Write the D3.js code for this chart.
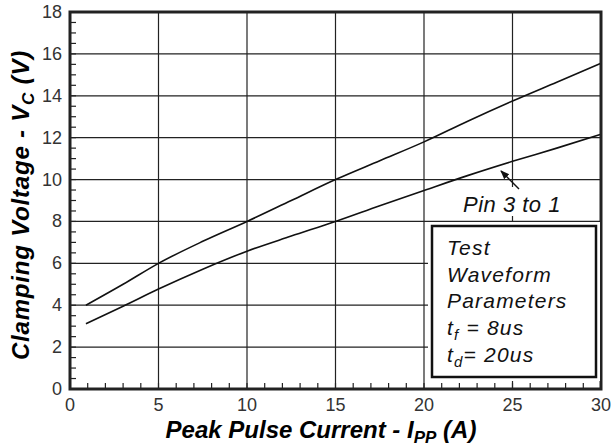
<!DOCTYPE html>
<html>
<head>
<meta charset="utf-8">
<script src="https://cdn.jsdelivr.net/npm/d3@7"></script>
<style>
  body { margin: 0; background: #fff; }
  svg text { font-family: "Liberation Sans", Arial, sans-serif; }
</style>
</head>
<body>
<div id="chart"></div>
<script>
// values
const currentA = [0.9, 3, 5, 7.5, 10, 12.5, 15, 17.5, 20, 22.5, 25, 27.5, 30];
const upperV = [4.0, 5.0, 6.0, 7.05, 8.0, 9.0, 10.0, 10.9, 11.8, 12.8, 13.75, 14.65, 15.55];
const lowerV = [3.12, 3.95, 4.77, 5.72, 6.58, 7.3, 8.0, 8.75, 9.48, 10.2, 10.87, 11.5, 12.16];
const xTicks = [0, 5, 10, 15, 20, 25, 30];
const yTicks = [0, 2, 4, 6, 8, 10, 12, 14, 16, 18];
const boxLines = ["Test", "Waveform", "Parameters"];

const WIDTH = 612, HEIGHT = 448;
const LEFT = 70, RIGHT = 601, TOP = 12, BOTTOM = 389;

const x = d3.scaleLinear().domain([0, 30]).range([LEFT, RIGHT]);
const y = d3.scaleLinear().domain([0, 18]).range([BOTTOM, TOP]);

const svg = d3.select("#chart").append("svg")
    .attr("width", WIDTH)
    .attr("height", HEIGHT);

// grid
svg.selectAll("line.gridx")
    .data(xTicks.slice(1, -1))
    .enter().append("line")
    .attr("x1", d => x(d)).attr("x2", d => x(d))
    .attr("y1", TOP).attr("y2", BOTTOM)
    .attr("stroke", "#222").attr("stroke-width", 1.2);

svg.selectAll("line.gridy")
    .data(yTicks.slice(1, -1))
    .enter().append("line")
    .attr("x1", LEFT).attr("x2", RIGHT)
    .attr("y1", d => y(d)).attr("y2", d => y(d))
    .attr("stroke", "#222").attr("stroke-width", 1.2);

// minor ticks, pointing inward
svg.selectAll("line.minx")
    .data(d3.range(1, 30))
    .enter().append("line")
    .attr("x1", d => x(d)).attr("x2", d => x(d))
    .attr("y1", BOTTOM).attr("y2", BOTTOM - 6)
    .attr("stroke", "#222").attr("stroke-width", 1.2);

svg.selectAll("line.miny")
    .data(d3.range(0.5, 18, 0.5))
    .enter().append("line")
    .attr("x1", LEFT).attr("x2", LEFT + 6)
    .attr("y1", d => y(d)).attr("y2", d => y(d))
    .attr("stroke", "#222").attr("stroke-width", 1.2);

// curves
const line = d3.line()
    .x(d => x(d[0]))
    .y(d => y(d[1]))
    .curve(d3.curveMonotoneX);

[upperV, lowerV].forEach(vals => {
    svg.append("path")
        .datum(currentA.map((c, i) => [c, vals[i]]))
        .attr("d", line)
        .attr("fill", "none")
        .attr("stroke", "#111")
        .attr("stroke-width", 1.6);
});

// frame
svg.append("rect")
    .attr("x", LEFT).attr("y", TOP)
    .attr("width", RIGHT - LEFT).attr("height", BOTTOM - TOP)
    .attr("fill", "none")
    .attr("stroke", "#222").attr("stroke-width", 3);

// tick labels
svg.selectAll("text.xt")
    .data(xTicks)
    .enter().append("text")
    .attr("x", d => x(d))
    .attr("y", BOTTOM + 22)
    .attr("text-anchor", "middle")
    .attr("font-size", 18)
    .attr("fill", "#333")
    .text(d => d);

svg.selectAll("text.yt")
    .data(yTicks)
    .enter().append("text")
    .attr("x", LEFT - 8)
    .attr("y", d => y(d) + 6)
    .attr("text-anchor", "end")
    .attr("font-size", 18)
    .attr("fill", "#333")
    .text(d => d);

// axis titles
const xt = svg.append("text")
    .attr("x", 321).attr("y", 438)
    .attr("text-anchor", "middle")
    .attr("font-size", 24)
    .attr("font-weight", "bold")
    .attr("font-style", "italic");
xt.append("tspan").text("Peak Pulse Current - I");
xt.append("tspan").attr("font-size", 17).attr("dy", 5).text("PP");
xt.append("tspan").attr("dy", -5).text(" (A)");

const yt = svg.append("text")
    .attr("transform", "translate(29,205) rotate(-90)")
    .attr("text-anchor", "middle")
    .attr("font-size", 24)
    .attr("letter-spacing", 0.8)
    .attr("font-weight", "bold")
    .attr("font-style", "italic");
yt.append("tspan").text("Clamping Voltage - V");
yt.append("tspan").attr("font-size", 17).attr("dy", 5).text("C");
yt.append("tspan").attr("dy", -5).text(" (V)");

// "Pin 3 to 1" annotation
svg.append("rect")
    .attr("x", 460).attr("y", 187)
    .attr("width", 106).attr("height", 29)
    .attr("fill", "#fff");

svg.append("text")
    .attr("x", 463).attr("y", 212)
    .attr("font-size", 22)
    .attr("letter-spacing", 0.5)
    .attr("font-style", "italic")
    .attr("fill", "#111")
    .text("Pin 3 to 1");

svg.append("defs").append("marker")
    .attr("id", "arrow")
    .attr("viewBox", "0 0 10 10")
    .attr("refX", 9).attr("refY", 5)
    .attr("markerWidth", 6).attr("markerHeight", 6)
    .attr("orient", "auto")
    .append("path")
    .attr("d", "M0,1 L10,5 L0,9 Z")
    .attr("fill", "#111");

svg.append("line")
    .attr("x1", 519).attr("y1", 189)
    .attr("x2", 501).attr("y2", 171)
    .attr("stroke", "#111").attr("stroke-width", 1.5)
    .attr("marker-end", "url(#arrow)");

// test waveform box
svg.append("rect")
    .attr("x", 428).attr("y", 222)
    .attr("width", 172).attr("height", 159)
    .attr("fill", "#fff");

svg.append("rect")
    .attr("x", 432).attr("y", 226)
    .attr("width", 164).attr("height", 151)
    .attr("fill", "none")
    .attr("stroke", "#111").attr("stroke-width", 2.5);

svg.selectAll("text.box")
    .data(boxLines)
    .enter().append("text")
    .attr("x", 447)
    .attr("y", (d, i) => 255 + i * 26.7)
    .attr("font-size", 21)
    .attr("letter-spacing", 1.2)
    .attr("font-style", "italic")
    .attr("fill", "#111")
    .text(d => d);

const tf = svg.append("text")
    .attr("x", 447).attr("y", 335)
    .attr("font-size", 21).attr("letter-spacing", 1.2)
    .attr("font-style", "italic").attr("fill", "#111");
tf.append("tspan").text("t");
tf.append("tspan").attr("font-size", 15).attr("dy", 5).text("f");
tf.append("tspan").attr("dy", -5).text(" = 8us");

const td = svg.append("text")
    .attr("x", 447).attr("y", 362)
    .attr("font-size", 21).attr("letter-spacing", 1.2)
    .attr("font-style", "italic").attr("fill", "#111");
td.append("tspan").text("t");
td.append("tspan").attr("font-size", 15).attr("dy", 5).text("d");
td.append("tspan").attr("dy", -5).text("= 20us");
</script>
</body>
</html>
